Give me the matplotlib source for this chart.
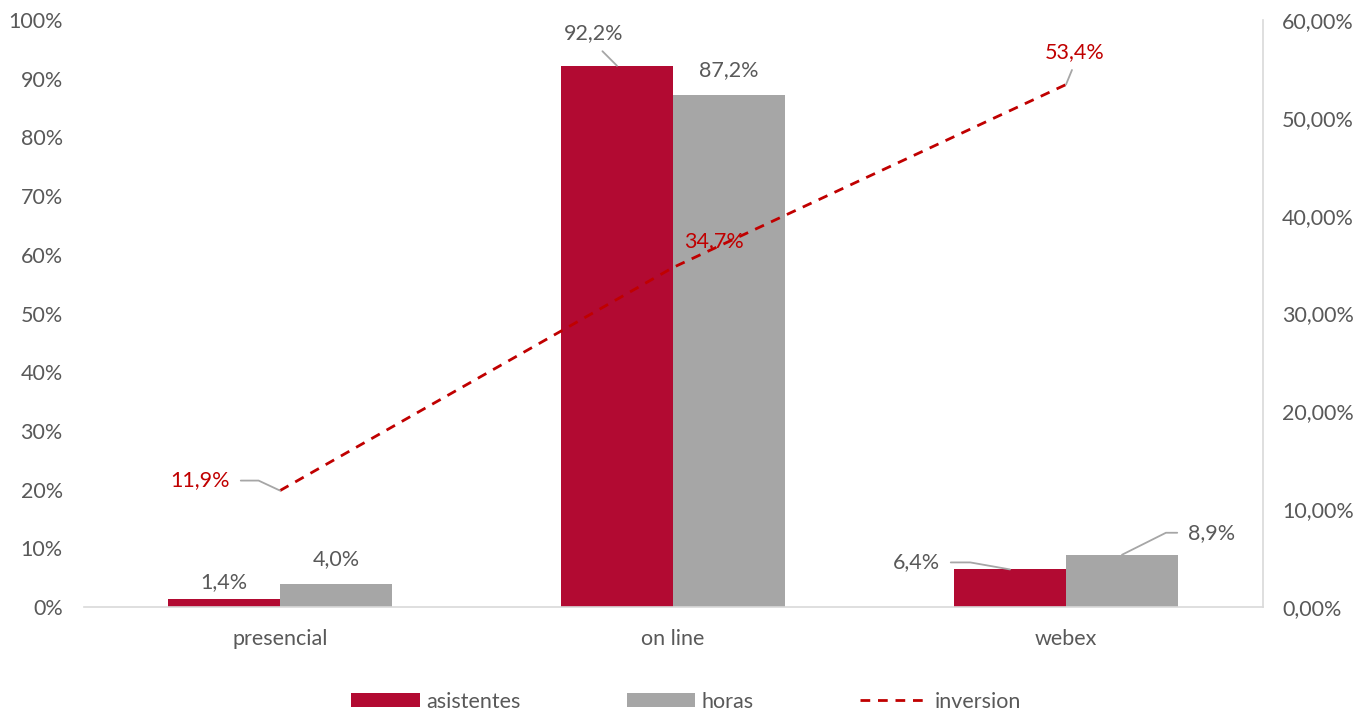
import matplotlib.pyplot as plt
import numpy as np
from matplotlib.ticker import FuncFormatter

# datos
categorias = ["presencial", "on line", "webex"]
asistentes = [0.014, 0.922, 0.064]
horas = [0.040, 0.872, 0.089]
inversion = [0.119, 0.347, 0.534]

rojo = "#B20A32"
gris = "#A6A6A6"
rojo_linea = "#C00000"
texto = "#595959"
FS = 15.5

plt.rcParams['font.family'] = ['Lato', 'DejaVu Sans']
plt.rcParams['font.size'] = FS

fig = plt.figure(figsize=(13.59, 7.09), dpi=100)
ax = fig.add_axes([83.5 / 1359, 1 - 607 / 709, 1179 / 1359, 587 / 709])
ax2 = ax.twinx()

x = np.arange(len(categorias))
w = 0.285
b1 = ax.bar(x - w / 2, asistentes, w, color=rojo, label="asistentes", zorder=2)
b2 = ax.bar(x + w / 2, horas, w, color=gris, label="horas", zorder=2)
l1, = ax2.plot(x, inversion, color=rojo_linea, lw=2, ls=(0, (3.5, 2.8)), label="inversion")

ax.set_xlim(-0.5, 2.5)
ax.set_ylim(0, 1)
ax2.set_ylim(0, 0.6)
ax.set_yticks(np.arange(0, 1.01, 0.1))
ax2.set_yticks(np.arange(0, 0.61, 0.1))
ax.yaxis.set_major_formatter(FuncFormatter(lambda v, p: f"{v * 100:.0f}%"))
ax2.yaxis.set_major_formatter(FuncFormatter(lambda v, p: f"{v * 100:.2f}%".replace(".", ",")))
ax.set_xticks(x)
ax.set_xticklabels(categorias)

for a in (ax, ax2):
    for s in a.spines.values():
        s.set_visible(False)
    a.tick_params(length=0, colors=texto, labelsize=FS)
ax.spines['bottom'].set_visible(True)
ax.spines['bottom'].set_color("#D9D9D9")
ax.spines['bottom'].set_linewidth(1.2)
ax2.spines['right'].set_visible(True)
ax2.spines['right'].set_color("#D9D9D9")
ax2.spines['right'].set_linewidth(1.2)
ax.tick_params(axis='y', pad=15)
ax.tick_params(axis='x', pad=16)
ax2.tick_params(axis='y', pad=14)

PX = 72 / 100  # pixeles -> puntos


def etiqueta(a, xv, yv, txt, dx, dy, color, ha='center', leader=None):
    props = None
    if leader is not None:
        relpos, conn, shrink = leader
        props = dict(arrowstyle='-', color=gris, lw=1.3, relpos=relpos,
                     connectionstyle=conn, shrinkA=shrink * PX, shrinkB=0)
    a.annotate(txt, (xv, yv), xytext=(dx * PX, dy * PX), textcoords='offset points',
               ha=ha, va='center', color=color, fontsize=FS, arrowprops=props, zorder=5)


fmt = lambda v: f"{v * 100:.1f}%".replace(".", ",")

# barras
etiqueta(ax, x[0] - w / 2, asistentes[0], fmt(asistentes[0]), 0, 17, texto)
etiqueta(ax, x[0] + w / 2, horas[0], fmt(horas[0]), 0, 24, texto)
etiqueta(ax, x[1] - w / 2, asistentes[1], fmt(asistentes[1]), -23, 33, texto,
         leader=((0.5, 0), "arc3", 8))
etiqueta(ax, x[1] + w / 2, horas[1], fmt(horas[1]), 0, 25, texto)
etiqueta(ax, x[2] - w / 2, asistentes[2], fmt(asistentes[2]), -70, 7, texto, ha='right',
         leader=((1, 0.5), "angle,angleA=0,angleB=170,rad=0", 8))
etiqueta(ax, x[2] + w / 2, horas[2], fmt(horas[2]), 66, 22, texto, ha='left',
         leader=((0, 0.5), "angle,angleA=0,angleB=26.6,rad=0", 8))

# linea
etiqueta(ax2, x[0], inversion[0], fmt(inversion[0]), -50, 10, rojo_linea, ha='right',
         leader=((1, 0.5), "angle,angleA=0,angleB=155,rad=0", 8))
etiqueta(ax2, x[1], inversion[1], fmt(inversion[1]), 41, 26, rojo_linea)
etiqueta(ax2, x[2], inversion[2], fmt(inversion[2]), 9, 32, rojo_linea,
         leader=((0.5, 0), "arc3", 5))

fig.legend([b1, b2, l1], ["asistentes", "horas", "inversion"], loc='lower center',
           bbox_to_anchor=(0.505, -0.031), ncol=3, frameon=False, fontsize=FS,
           handlelength=3.2, handleheight=0.65, handletextpad=0.3, columnspacing=4.9,
           labelcolor=texto)

fig.savefig("out.png", dpi=100)
